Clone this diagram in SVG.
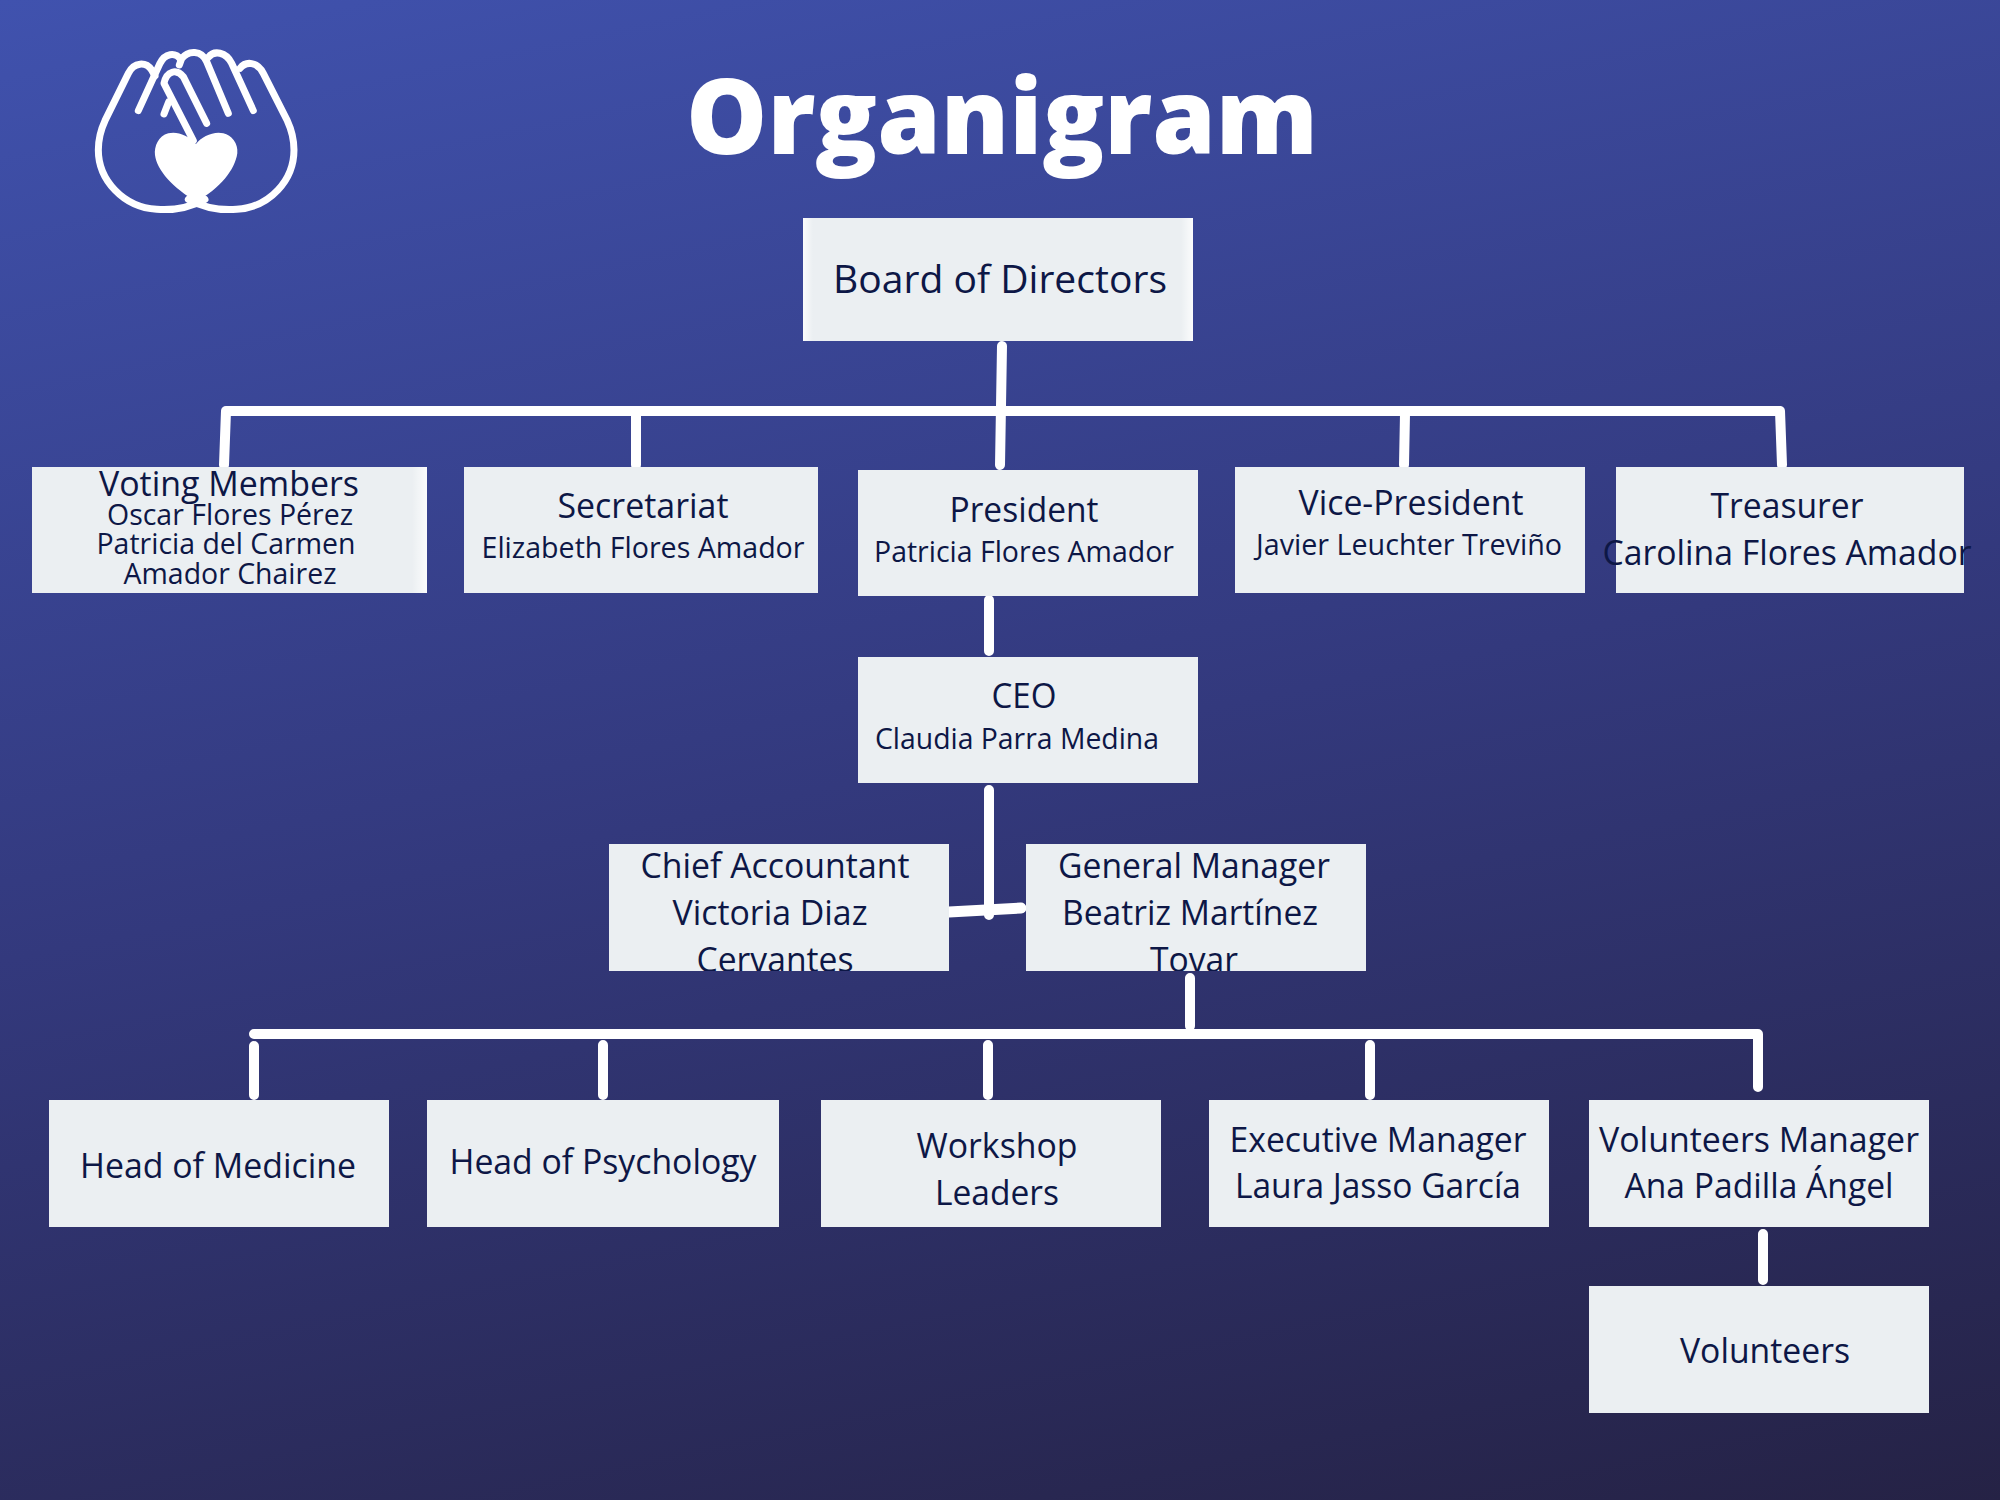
<svg xmlns="http://www.w3.org/2000/svg" width="2000" height="1500" viewBox="0 0 2000 1500">
<style>
.box{fill:#ebeff2}
.t{font-family:"Open Sans","Noto Sans","DejaVu Sans",sans-serif;fill:#0d1746;text-anchor:middle}
.a{font-size:35px}
.b{font-size:30px}
.c{stroke:#fff;stroke-width:10;stroke-linecap:round;fill:none}
.ic{stroke:#fff;stroke-width:21;stroke-linecap:round;stroke-linejoin:round;fill:none}
</style>
<defs>
<linearGradient id="bg" gradientUnits="userSpaceOnUse" x1="0" y1="0" x2="386" y2="1841">
<stop offset="0" stop-color="#4052ae"/>
<stop offset="0.5" stop-color="#33397d"/>
<stop offset="1" stop-color="#252245"/>
</linearGradient>
<linearGradient id="edge" x1="0" x2="1" y1="0" y2="0">
<stop offset="0" stop-color="#fff" stop-opacity="0"/>
<stop offset="1" stop-color="#fff" stop-opacity=".8"/>
</linearGradient>
<linearGradient id="edgeL" x1="1" x2="0" y1="0" y2="0">
<stop offset="0" stop-color="#fff" stop-opacity="0"/>
<stop offset="1" stop-color="#fff" stop-opacity=".8"/>
</linearGradient>
<clipPath id="cca"><rect x="609" y="844" width="340" height="127"/></clipPath>
<clipPath id="cgm"><rect x="1026" y="844" width="340" height="127"/></clipPath>
</defs>
<rect width="2000" height="1500" fill="url(#bg)"/>
<g id="logo" transform="translate(60 20) scale(.3333)">
<path class="ic" d="M435 538C385 565 340 572 290 568C190 562 115 480 115 390C115 355 122 330 135 302L205 160C222 125 258 125 275 150L285 168"/>
<path class="ic" d="M385 538C435 565 480 572 530 568C630 562 702 480 702 390C702 355 695 330 682 302L610 160C592 125 558 122 540 145"/>
<path class="ic" d="M235 272L300 130C315 100 345 95 362 118"/>
<path class="ic" d="M580 272L515 130C498 95 462 90 445 112"/>
<path class="ic" d="M505 280L440 125C425 90 385 90 365 116L358 135"/>
<path class="ic" d="M440 310L370 170C350 146 320 152 312 190L400 362"/>
<path class="ic" d="M312 282L326 246"/>
<path fill="#fff" d="M408 372C385 345 350 333 325 340C295 348 282 380 285 405C290 450 340 505 410 545C480 505 525 450 532 400C535 370 515 345 490 340C460 333 425 350 408 372Z"/>
</g>
<text x="1002" y="154" font-family="'Open Sans','Noto Sans',sans-serif" font-weight="800" font-size="104" fill="#fff" text-anchor="middle" textLength="632" lengthAdjust="spacingAndGlyphs">Organigram</text>
<g id="connectors">
<path class="c" d="M1002 346L1000 465M226 411H1779M226 411L224 465M636 414V465M1405 414L1404 465M1780 411L1782 465M989 600V651M989 790V915M1190 978V1026M254 1034H1758M254 1046V1095M603 1045V1095M988 1045V1095M1370 1045V1095M1758 1034V1087M1763 1234V1280"/>
<path class="c" style="stroke-width:11" d="M949 912L1021 908"/>
</g>
<g id="board"><rect class="box" x="803" y="218" width="390" height="123"/><rect x="803" y="218" width="10" height="123" fill="url(#edgeL)"/><rect x="1181" y="218" width="12" height="123" fill="url(#edge)"/><text class="t" font-size="39" x="1000" y="293" textLength="334" lengthAdjust="spacingAndGlyphs">Board of Directors</text></g>
<g id="voting"><rect class="box" x="32" y="467" width="395" height="126"/><rect x="412" y="467" width="15" height="126" fill="url(#edge)"/><text class="t a" x="229" y="496" textLength="260" lengthAdjust="spacingAndGlyphs">Voting Members</text><text class="t b" x="230" y="525" textLength="246" lengthAdjust="spacingAndGlyphs">Oscar Flores Pérez</text><text class="t b" x="226" y="554" textLength="259" lengthAdjust="spacingAndGlyphs">Patricia del Carmen</text><text class="t b" x="230" y="584" textLength="213" lengthAdjust="spacingAndGlyphs">Amador Chairez</text></g>
<g id="secretariat"><rect class="box" x="464" y="467" width="354" height="126"/><text class="t a" x="643" y="518" textLength="171" lengthAdjust="spacingAndGlyphs">Secretariat</text><text class="t b" x="643" y="558" textLength="323" lengthAdjust="spacingAndGlyphs">Elizabeth Flores Amador</text></g>
<g id="president"><rect class="box" x="858" y="470" width="340" height="126"/><text class="t a" x="1024" y="522" textLength="149" lengthAdjust="spacingAndGlyphs">President</text><text class="t b" x="1024" y="562" textLength="300" lengthAdjust="spacingAndGlyphs">Patricia Flores Amador</text></g>
<g id="vice"><rect class="box" x="1235" y="467" width="350" height="126"/><text class="t a" x="1411" y="515" textLength="225" lengthAdjust="spacingAndGlyphs">Vice-President</text><text class="t b" x="1409" y="555" textLength="306" lengthAdjust="spacingAndGlyphs">Javier Leuchter Treviño</text></g>
<g id="treasurer"><rect class="box" x="1616" y="467" width="348" height="126"/><text class="t a" x="1787" y="518" textLength="153" lengthAdjust="spacingAndGlyphs">Treasurer</text><text class="t a" x="1787" y="565" textLength="369" lengthAdjust="spacingAndGlyphs">Carolina Flores Amador</text></g>
<g id="ceo"><rect class="box" x="858" y="657" width="340" height="126"/><text class="t a" x="1024" y="708" textLength="65" lengthAdjust="spacingAndGlyphs">CEO</text><text class="t b" x="1017" y="749" textLength="284" lengthAdjust="spacingAndGlyphs">Claudia Parra Medina</text></g>
<g id="chief"><rect class="box" x="609" y="844" width="340" height="127"/><g clip-path="url(#cca)"><text class="t a" x="775" y="878" textLength="269" lengthAdjust="spacingAndGlyphs">Chief Accountant</text><text class="t a" x="770" y="925" textLength="195" lengthAdjust="spacingAndGlyphs">Victoria Diaz</text><text class="t a" x="775" y="972" textLength="157" lengthAdjust="spacingAndGlyphs">Cervantes</text></g></g>
<g id="gm"><rect class="box" x="1026" y="844" width="340" height="127"/><g clip-path="url(#cgm)"><text class="t a" x="1194" y="878" textLength="272" lengthAdjust="spacingAndGlyphs">General Manager</text><text class="t a" x="1190" y="925" textLength="256" lengthAdjust="spacingAndGlyphs">Beatriz Martínez</text><text class="t a" x="1194" y="972" textLength="88" lengthAdjust="spacingAndGlyphs">Tovar</text></g></g>
<g id="medicine"><rect class="box" x="49" y="1100" width="340" height="127"/><text class="t a" x="218" y="1178" textLength="276" lengthAdjust="spacingAndGlyphs">Head of Medicine</text></g>
<g id="psychology"><rect class="box" x="427" y="1100" width="352" height="127"/><text class="t a" x="603" y="1174" textLength="307" lengthAdjust="spacingAndGlyphs">Head of Psychology</text></g>
<g id="workshop"><rect class="box" x="821" y="1100" width="340" height="127"/><text class="t a" x="997" y="1158" textLength="161" lengthAdjust="spacingAndGlyphs">Workshop</text><text class="t a" x="997" y="1205" textLength="124" lengthAdjust="spacingAndGlyphs">Leaders</text></g>
<g id="executive"><rect class="box" x="1209" y="1100" width="340" height="127"/><text class="t a" x="1378" y="1152" textLength="297" lengthAdjust="spacingAndGlyphs">Executive Manager</text><text class="t a" x="1378" y="1198" textLength="286" lengthAdjust="spacingAndGlyphs">Laura Jasso García</text></g>
<g id="volmgr"><rect class="box" x="1589" y="1100" width="340" height="127"/><text class="t a" x="1759" y="1152" textLength="320" lengthAdjust="spacingAndGlyphs">Volunteers Manager</text><text class="t a" x="1759" y="1198" textLength="269" lengthAdjust="spacingAndGlyphs">Ana Padilla Ángel</text></g>
<g id="volunteers"><rect class="box" x="1589" y="1286" width="340" height="127"/><text class="t a" x="1765" y="1363" textLength="170" lengthAdjust="spacingAndGlyphs">Volunteers</text></g>
</svg>
